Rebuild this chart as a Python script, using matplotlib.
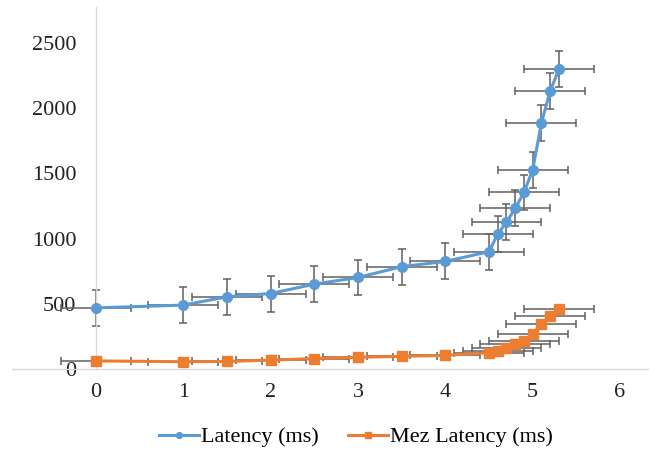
import numpy as np
import matplotlib.pyplot as plt

# load level vs latency, read per step
x_vals = [0, 1, 1.5, 2, 2.5, 3, 3.5, 4, 4.5, 4.6, 4.7, 4.8, 4.9, 5.0, 5.1, 5.2, 5.3]
latency = [469, 490, 554, 579, 651, 702, 785, 825, 900, 1036, 1125, 1233,
           1354, 1528, 1887, 2133, 2298]
mez_latency = [62, 56, 58, 68, 80, 90, 97, 105, 125, 138, 164, 190,
               215, 267, 344, 408, 459]
x_err = 0.4
latency_err = 138

blue = "#5b9bd5"
orange = "#ed7d31"
err_col = "#606060"

plt.rcParams['font.family'] = ['Liberation Serif', 'DejaVu Serif']

fig = plt.figure(figsize=(6.56, 4.51), dpi=100)
ax = fig.add_axes([12/656, 1 - 369/451, 636/656, 362/451])

# error bars first, series on top
ax.errorbar(x_vals, latency, xerr=x_err, yerr=latency_err, fmt="none",
            ecolor=err_col, elinewidth=1.1, capsize=3, capthick=1.1, zorder=2)
ax.errorbar(x_vals, mez_latency, xerr=x_err, fmt="none",
            ecolor=err_col, elinewidth=1.1, capsize=3, capthick=1.1, zorder=2)

ax.plot(x_vals, latency, color=blue, lw=2.2, marker="o", ms=7,
        label="Latency (ms)", zorder=3)
ax.plot(x_vals, mez_latency, color=orange, lw=2.2, marker="s", ms=6.5,
        label="Mez Latency (ms)", zorder=3)

ax.set_xlim(-0.96, 6.32)
ax.set_ylim(0, 2777)
ax.set_xticks(range(0, 7))
ax.set_yticks(range(0, 2501, 500))

for side in ["top", "right"]:
    ax.spines[side].set_visible(False)
ax.spines["left"].set_position(("data", 0))
for side in ["left", "bottom"]:
    ax.spines[side].set_color("#d9d9d9")
    ax.spines[side].set_linewidth(1.0)

ax.tick_params(axis="both", length=0, labelsize=16, labelcolor="#222222")
ax.tick_params(axis="y", pad=14)
ax.tick_params(axis="x", pad=10)

fig.legend(loc="center", bbox_to_anchor=(356/656, 1 - 437/451), ncol=2,
           frameon=False, fontsize=16, handlelength=1.8, handletextpad=0.1,
           columnspacing=1.3, markerscale=0.6)

fig.savefig("out.png", dpi=100)
